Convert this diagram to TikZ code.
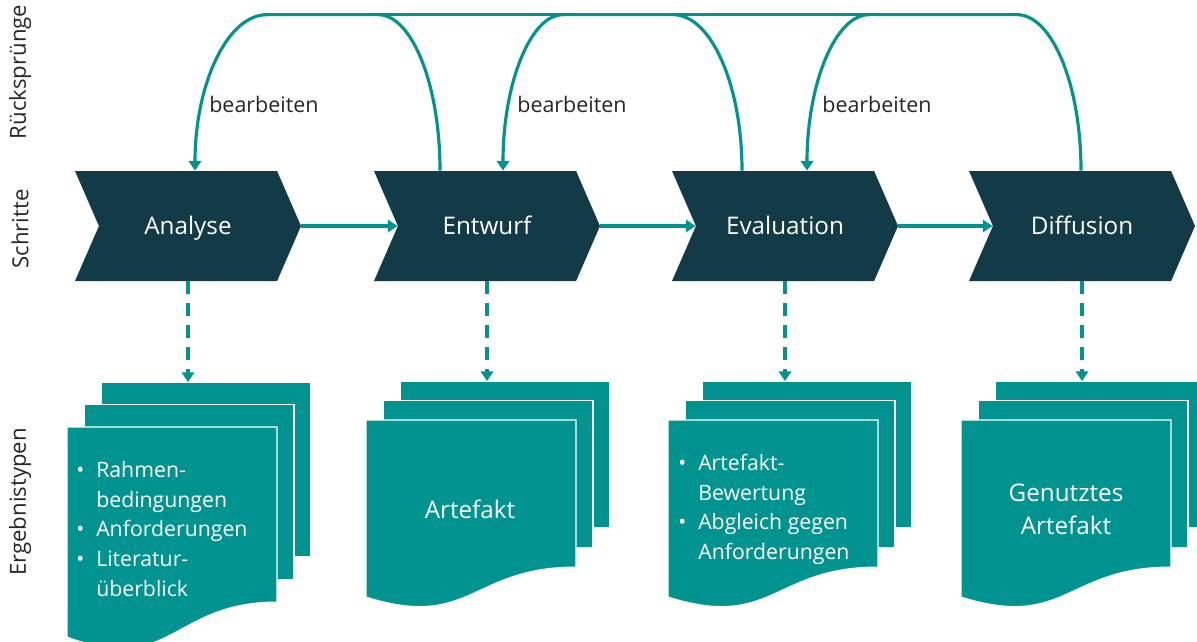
\documentclass[tikz,border=0pt]{standalone}
\usepackage{fontspec}
\setmainfont{Open Sans}
\usetikzlibrary{shapes.symbols,arrows.meta}
\definecolor{petrol}{RGB}{0,147,144}
\definecolor{navy}{RGB}{19,59,71}
\definecolor{ink}{RGB}{38,38,38}

\begin{document}
\begin{tikzpicture}[x=0.2mm, y=-0.2mm,
    stepbox/.style={signal, signal to=east, signal from=west, signal pointer angle=133,
      fill=navy, text=white, minimum width=45.2mm, minimum height=22mm, inner sep=0pt,
      text height=9.9pt, text depth=0pt, font=\fontsize{13.8}{16}\selectfont},
    rail/.style={draw=petrol, line width=1.8pt},
    flow/.style={rail, -{Triangle[length=5.5pt,width=7pt]}},
    result/.style={flow, dash pattern=on 7pt off 5.5pt},
    page/.style={fill=petrol, draw=white, line width=0.6pt},
    doctext/.style={text=white, align=center, font=\fontsize{13.8}{18.7}\selectfont},
    bullets/.style={text=white, anchor=west, inner sep=0pt, font=\fontsize{12.1}{17}\selectfont},
    lane/.style={rotate=90, text=ink, font=\fontsize{12.6}{15}\selectfont},
    hint/.style={anchor=west, inner sep=0pt, text=ink, font=\fontsize{12.2}{15}\selectfont}]
  \useasboundingbox (0,0) rectangle (1197,641);

  % Zeilenbeschriftung
  \node[lane] (lane1) at (20,72) {Rücksprünge};
  \node[lane] (lane2) at (20,229) {Schritte};
  \node[lane] (lane3) at (20,502) {Ergebnistypen};

  % Schritte
  \node[stepbox] (s1) at (188,226) {Analyse};
  \node[stepbox] (s2) at (487,226) {Entwurf};
  \node[stepbox] (s3) at (785,226) {Evaluation};
  \node[stepbox] (s4) at (1082,226) {Diffusion};
  \foreach \i/\j in {1/2, 2/3, 3/4}
    \draw[flow] (s\i.east) -- (s\j.west);

  % Ergebnisdokumente: links, oben, Versatz, Unterkante rechts / links
  \foreach \x/\y/\d/\r/\l [count=\i] in {67/427/45/175/210, 366/420/39/147/177,
      668/420/39/147/177, 961/420/39/147/177}{
    \filldraw[page] (\x+34,\y-\d) rectangle (\x+244,\y+\r-\d);
    \filldraw[page] (\x+17,\y-\d/2) rectangle (\x+227,\y+\r-\d/2);
    \filldraw[page] (\x,\y) -- (\x+210,\y) -- (\x+210,\y+\r)
      .. controls (\x+105,\y+\r) and (\x+105,\y+1.186*\l) .. (\x,\y+\l) -- cycle;
    \coordinate (top\i) at (\x+34,\y-\d);
  };
  \foreach \i in {1,...,4}
    \draw[result] (s\i.south) -- (s\i.south |- top\i);

  \node[bullets] (d1) at (76,531) {\begin{tabular}{@{}l@{\hspace{6.8pt}}l@{}}
    \textbullet & Rahmen-\\ & bedingungen\\ \textbullet & Anforderungen\\
    \textbullet & Literatur-\\ & überblick\end{tabular}};
  \node[doctext] (d2) at (470,509) {Artefakt};
  \node[bullets] (d3) at (678,509) {\begin{tabular}{@{}l@{\hspace{6.8pt}}l@{}}
    \textbullet & Artefakt-\\ & Bewertung\\ \textbullet & Abgleich gegen\\
    & Anforderungen\end{tabular}};
  \node[doctext] (d4) at (1066,509) {Genutztes\\Artefakt};

  % Ruecksprunge
  \draw[flow] ([xshift=-9.4mm]s2.north) .. controls +(0,-86) and +(34,0) .. +(-62,-156) coordinate (e1)
    -- +(-173,-156) .. controls +(-40,0) and +(0,-86) .. ([xshift=1.4mm]s1.north);
  \draw[flow] ([xshift=-8.6mm]s3.north) .. controls +(0,-86) and +(38,0) .. +(-69,-156) coordinate (e2)
    -- +(-179,-156) coordinate (w2) .. controls +(-33,0) and +(0,-86) .. ([xshift=3.2mm]s2.north);
  \draw[flow] ([xshift=-0.2mm]s4.north) .. controls +(0,-86) and +(35,0) .. +(-64,-156)
    -- +(-212,-156) coordinate (w3) .. controls +(-34,0) and +(0,-86) .. ([xshift=4.4mm]s3.north);
  \draw[rail] (e1) -- (w2) (e2) -- (w3);
  \node[hint] (b1) at (209,104) {bearbeiten};
  \node[hint] (b2) at (517,104) {bearbeiten};
  \node[hint] (b3) at (822,104) {bearbeiten};
\end{tikzpicture}
\end{document}
